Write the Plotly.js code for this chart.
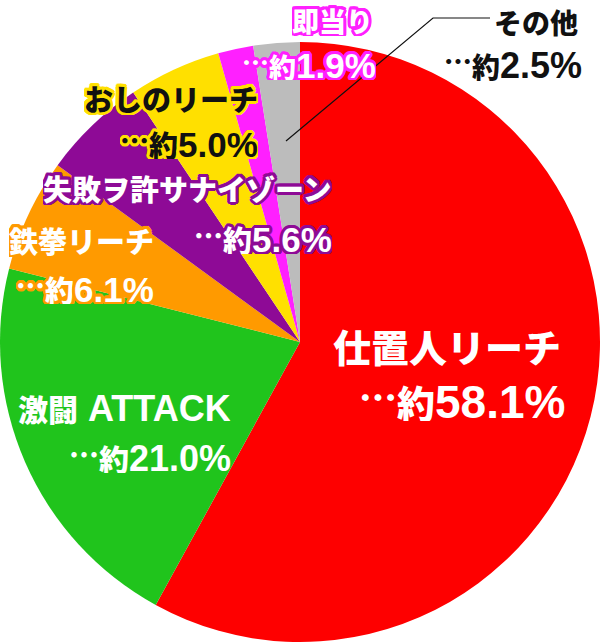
<!DOCTYPE html>
<html>
<head>
<meta charset="utf-8">
<script src="https://cdn.plot.ly/plotly-3.0.1.min.js"></script>
<style>html,body{margin:0;padding:0;background:#fff;}#chart{width:600px;height:644px;}</style>
</head>
<body>
<div id="chart"></div>
<script>
const labels = ['仕置人リーチ', '激闘 ATTACK', '鉄拳リーチ', '失敗ヲ許サナイゾーン', 'おしのリーチ', '即当り', 'その他'];
const values = [58.1, 21.0, 6.1, 5.6, 5.0, 1.9, 2.5];
const colors = ['#fe0000', '#20c41c', '#ff9a00', '#8e0a96', '#ffe000', '#ff20ff', '#bcbcbc'];

// label styling: right edge / centre y (px) of each line, CJK size (c), Latin size (l)
const W = 600, H = 644;
const labelStyle = [
  {x1: 563, y1: 345, x2: 567, y2: 398, c: 38, l: 46, fc: '#ffffff', oc: null},
  {x1: 233, y1: 408, x2: 233, y2: 455, c: 30, l: 36, fc: '#ffffff', oc: null},
  {x1: 156, y1: 239, x2: 156, y2: 286, c: 29, l: 35, fc: '#ffffff', oc: '#ff9a00'},
  {x1: 334, y1: 187, x2: 334, y2: 236, c: 29, l: 35, fc: '#ffffff', oc: '#8e0a96'},
  {x1: 260, y1: 97, x2: 260, y2: 141, c: 29, l: 35, fc: '#111111', oc: '#ffe000'},
  {x1: 375, y1: 20, x2: 378, y2: 64, c: 27, l: 35, fc: '#ffffff', oc: '#ff20ff'},
  {x1: 580, y1: 22, x2: 584, y2: 64, c: 28, l: 36, fc: '#111111', oc: '#ffffff'}
];

function outline(c, w) {
  if (!c) return 'none';
  const parts = [];
  for (let a = 0; a < 16; a++) {
    const t = a * Math.PI / 8;
    parts.push((w * Math.cos(t)).toFixed(2) + 'px ' + (w * Math.sin(t)).toFixed(2) + 'px 0 ' + c);
  }
  return parts.join(', ');
}

// wrap runs of non-ASCII (Japanese) characters in a span using the CJK font and size
function mixText(str, cjkSize) {
  const base = 'font-family:Noto Sans CJK JP;font-weight:900;font-size:' + cjkSize + 'px';
  return str.replace(/[^\x00-\x7F]+/g, m =>
    m.split(/(…+)/).filter(s => s).map(s =>
      s[0] === '…'
        ? '<span style="' + base + ';baseline-shift:0.17em">' + s + '</span>'
        : '<span style="' + base + '">' + s + '</span>'
    ).join(''));
}

const LATIN = '"Liberation Sans", "Noto Sans CJK JP", sans-serif';
const annotations = [];
labels.forEach((lab, i) => {
  const st = labelStyle[i];
  const sh = outline(st.oc, 3);
  const font = {family: LATIN, size: st.l, color: st.fc, weight: 'bold', shadow: sh};
  const h = Math.round(st.c * 1.2);
  annotations.push({
    xref: 'paper', yref: 'paper', x: st.x1 / W, y: 1 - st.y1 / H,
    xanchor: 'right', yanchor: 'middle', showarrow: false, height: h,
    text: mixText(lab, st.c), font: font
  });
  annotations.push({
    xref: 'paper', yref: 'paper', x: st.x2 / W, y: 1 - st.y2 / H,
    xanchor: 'right', yanchor: 'middle', showarrow: false, height: h,
    text: mixText('…約', st.c) + values[i].toFixed(1) + '%', font: font
  });
});

const data = [{
  type: 'pie',
  labels: labels,
  values: values,
  sort: false,
  direction: 'clockwise',
  rotation: 0,
  textinfo: 'none',
  hoverinfo: 'label+percent',
  marker: {colors: colors, line: {width: 0}},
  domain: {x: [0, 1], y: [0, (H - 40) / H]},
  showlegend: false
}];

const layout = {
  width: W, height: H,
  margin: {l: 0, r: 0, t: 0, b: 0},
  paper_bgcolor: '#ffffff',
  showlegend: false,
  annotations: annotations,
  shapes: [{
    type: 'path', xref: 'paper', yref: 'paper',
    path: 'M ' + (286 / W) + ' ' + (1 - 141 / H) + ' L ' + (433 / W) + ' ' + (1 - 18 / H) + ' L ' + (490 / W) + ' ' + (1 - 18 / H),
    line: {color: '#111111', width: 1.2}
  }]
};

Plotly.newPlot('chart', data, layout, {displayModeBar: false, staticPlot: true});
</script>
</body>
</html>
